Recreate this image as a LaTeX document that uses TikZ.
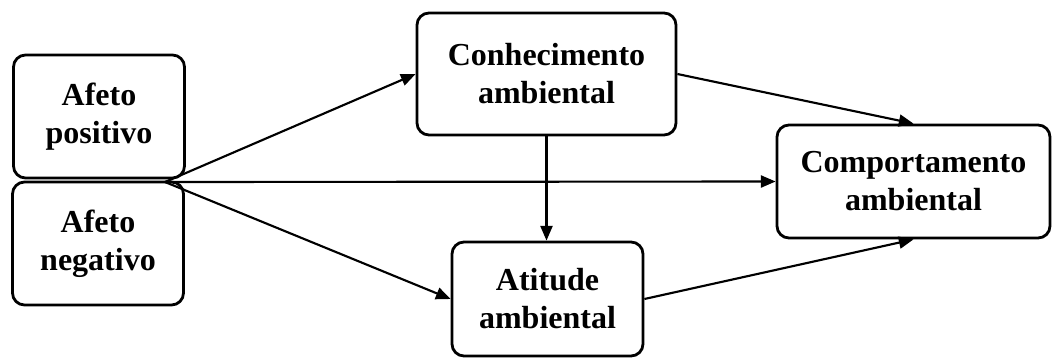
\documentclass[tikz,border=0pt]{standalone}
\usepackage{fontspec}
\setmainfont{Liberation Serif}
\usetikzlibrary{arrows.meta}
\newcommand{\px}{0.75pt}
\tikzset{
  box/.style={draw=black, line width=2.1pt, rounded corners=9pt, align=center,
    font=\fontsize{24}{28.5}\selectfont\bfseries, inner sep=0pt},
  arrow/.style={draw=black, line width=1.6pt, -{Triangle[length=11pt,width=9pt]}}
}
\begin{document}
\begin{tikzpicture}[x=0.75pt, y=-0.75pt]
  \useasboundingbox (0,0) rectangle (1053,358);
  \node[box, minimum width=171*\px, minimum height=123*\px] (pos) at (99,116.5) {Afeto\\positivo};
  \node[box, minimum width=171*\px, minimum height=123*\px] (neg) at (98,243.5) {Afeto\\negativo};
  \node[box, minimum width=259*\px, minimum height=122*\px] (con) at (546.5,74) {Conhecimento\\ambiental};
  \node[box, minimum width=191*\px, minimum height=114*\px] (ati) at (547.5,299) {Atitude\\ambiental};
  \node[box, minimum width=273*\px, minimum height=113*\px] (com) at (913.5,181.5) {Comportamento\\ambiental};
  \coordinate (src) at (165,182);

  \draw[arrow] (src) -- (con.west);
  \draw[arrow] (src) -- (com.west);
  \draw[arrow] (src) -- (ati.west);
  \draw[arrow] (con.east) -- (com.north);
  \draw[arrow] (ati.east) -- (com.south);
  \draw[arrow] (con.south) -- (con.south |- ati.north);
\end{tikzpicture}
\end{document}
